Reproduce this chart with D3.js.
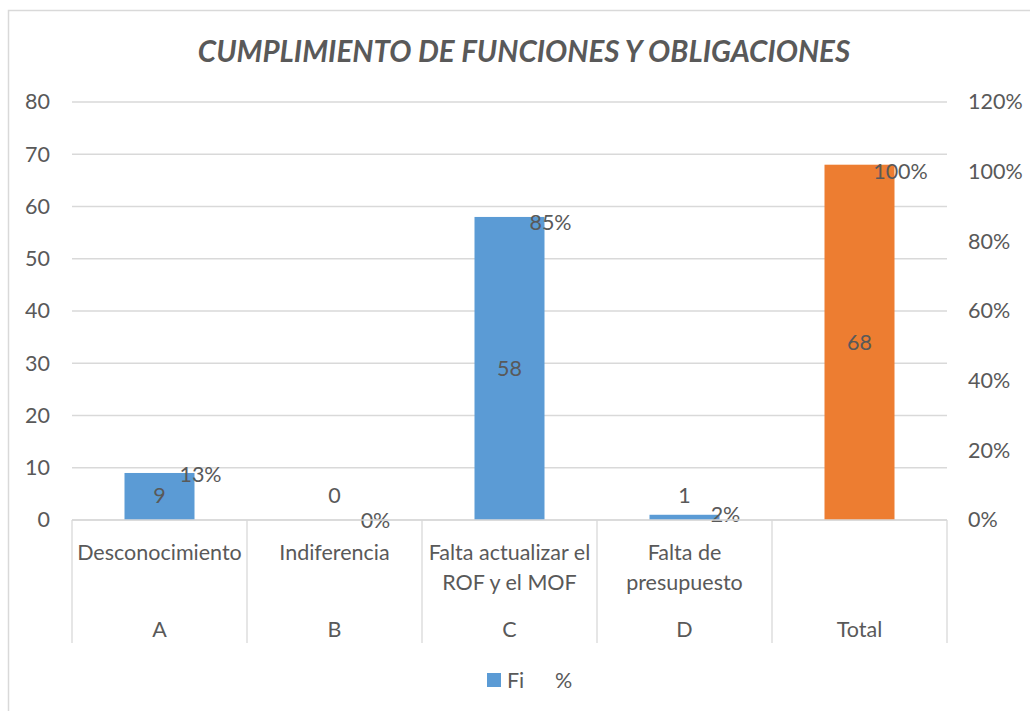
<!DOCTYPE html>
<html>
<head>
<meta charset="utf-8">
<script src="https://cdn.jsdelivr.net/npm/d3@7"></script>
<style>
    body { margin: 0; background: #fff; }
    svg text { font-family: Lato, "Open Sans", sans-serif; fill: #595959; }
</style>
</head>
<body>
<div id="chart"></div>
<script>

    // data
    var codes = ["A", "B", "C", "D", "Total"];
    var labels = [["Desconocimiento"], ["Indiferencia"], ["Falta actualizar el", "ROF y el MOF"], ["Falta de", "presupuesto"], [""]];
    var fi = [9, 0, 58, 1, 68];
    var pct = [13.2, 0, 85.3, 1.5, 100];
    var leftTicks = [0, 10, 20, 30, 40, 50, 60, 70, 80];
    var rightTicks = [0, 20, 40, 60, 80, 100, 120];

    var W = 1030, H = 711;
    var fs = "21.5px";
    var margin = {top: 102, right: 83, bottom: 191, left: 72},
        width = W - margin.left - margin.right,
        height = H - margin.top - margin.bottom;

    var svg = d3.select("#chart")
        .append("svg")
        .attr("width", W)
        .attr("height", H);

    // chart border
    svg.append("rect")
        .attr("x", 8.5).attr("y", 10.5)
        .attr("width", 1040).attr("height", 720)
        .attr("fill", "none")
        .attr("stroke", "#d9d9d9")
        .attr("stroke-width", 1.5);

    // title
    svg.append("text")
        .attr("x", 524)
        .attr("y", 62)
        .style("text-anchor", "middle")
        .style("font-size", "29.5px")
        .style("font-weight", "bold")
        .style("font-style", "italic")
        .text("CUMPLIMIENTO DE FUNCIONES Y OBLIGACIONES");

    var g = svg.append("g")
        .attr("transform", "translate(" + margin.left + "," + margin.top + ")");

    var x = d3.scaleBand()
        .domain(codes)
        .range([0, width])
        .paddingInner(0)
        .paddingOuter(0);

    var y = d3.scaleLinear()
        .domain([0, 80])
        .range([height, 0]);

    var y2 = d3.scaleLinear()
        .domain([0, 120])
        .range([height, 0]);

    // gridlines
    g.append("g")
        .selectAll("line")
        .data(leftTicks)
        .enter()
        .append("line")
        .attr("x1", 0)
        .attr("x2", width)
        .attr("y1", function (d) { return y(d); })
        .attr("y2", function (d) { return y(d); })
        .attr("stroke", "#d9d9d9")
        .attr("stroke-width", 1.3);

    // left axis
    var yAxis = g.append("g")
        .attr("transform", "translate(-22,0)")
        .call(d3.axisLeft(y).tickValues(leftTicks).tickSize(0).tickPadding(0));
    yAxis.select(".domain").remove();
    yAxis.selectAll("text").style("font-size", fs).style("font-family", null);

    // right axis
    var y2Axis = g.append("g")
        .attr("transform", "translate(" + (width + 21) + ",0)")
        .call(d3.axisRight(y2).tickValues(rightTicks).tickSize(0).tickPadding(0)
            .tickFormat(function (d) { return d + "%"; }));
    y2Axis.select(".domain").remove();
    y2Axis.selectAll("text").style("font-size", fs).style("font-family", null);

    // bars
    var barW = x.bandwidth() * 0.4;
    g.append("g")
        .selectAll("rect")
        .data(fi)
        .enter()
        .append("rect")
        .attr("x", function (d, i) { return x(codes[i]) + (x.bandwidth() - barW) / 2; })
        .attr("y", function (d) { return y(d); })
        .attr("width", barW)
        .attr("height", function (d) { return height - y(d); })
        .attr("fill", function (d, i) { return codes[i] == "Total" ? "#ed7d31" : "#5b9bd5"; });

    // Fi labels
    g.append("g")
        .selectAll("text")
        .data(fi)
        .enter()
        .append("text")
        .attr("x", function (d, i) { return x(codes[i]) + x.bandwidth() / 2; })
        .attr("y", function (d) { return Math.min((y(d) + height) / 2, height - 25); })
        .attr("dy", "0.35em")
        .style("text-anchor", "middle")
        .style("font-size", fs)
        .text(function (d) { return d; });

    // % labels (invisible series)
    g.append("g")
        .selectAll("text")
        .data(pct)
        .enter()
        .append("text")
        .attr("x", function (d, i) { return x(codes[i]) + x.bandwidth() / 2 + 41; })
        .attr("y", function (d) { return y2(d); })
        .attr("dy", "0.35em")
        .style("text-anchor", "middle")
        .style("font-size", fs)
        .text(function (d) { return Math.round(d) + "%"; });

    // multi-level category axis
    var cat = g.append("g").attr("transform", "translate(0," + height + ")");
    cat.append("line")
        .attr("x1", 0).attr("x2", width)
        .attr("y1", 0).attr("y2", 0)
        .attr("stroke", "#d9d9d9")
        .attr("stroke-width", 1.3);
    cat.selectAll("line.sep")
        .data(codes.concat(["end"]))
        .enter()
        .append("line")
        .attr("class", "sep")
        .attr("x1", function (d, i) { return i * x.bandwidth(); })
        .attr("x2", function (d, i) { return i * x.bandwidth(); })
        .attr("y1", 0)
        .attr("y2", 123)
        .attr("stroke", "#d9d9d9")
        .attr("stroke-width", 1.3);

    var sub = cat.selectAll("text.sub")
        .data(labels)
        .enter()
        .append("text")
        .attr("class", "sub")
        .attr("x", function (d, i) { return x(codes[i]) + x.bandwidth() / 2; })
        .attr("y", 32)
        .style("text-anchor", "middle")
        .style("font-size", fs);
    sub.selectAll("tspan")
        .data(function (d) { return d; })
        .enter()
        .append("tspan")
        .attr("x", function () { return d3.select(this.parentNode).attr("x"); })
        .attr("dy", function (d, i) { return i == 0 ? "0.35em" : "1.4em"; })
        .text(function (d) { return d; });

    cat.selectAll("text.code")
        .data(codes)
        .enter()
        .append("text")
        .attr("class", "code")
        .attr("x", function (d) { return x(d) + x.bandwidth() / 2; })
        .attr("y", 109)
        .attr("dy", "0.35em")
        .style("text-anchor", "middle")
        .style("font-size", fs)
        .text(function (d) { return d; });

    // legend
    var legend = svg.append("g");
    legend.append("rect")
        .attr("x", 487).attr("y", 673)
        .attr("width", 14).attr("height", 14)
        .attr("fill", "#5b9bd5");
    legend.append("text")
        .attr("x", 507).attr("y", 680)
        .attr("dy", "0.35em")
        .style("font-size", fs)
        .text("Fi");
    legend.append("text")
        .attr("x", 555).attr("y", 680)
        .attr("dy", "0.35em")
        .style("font-size", fs)
        .text("%");

</script>
</body>
</html>
